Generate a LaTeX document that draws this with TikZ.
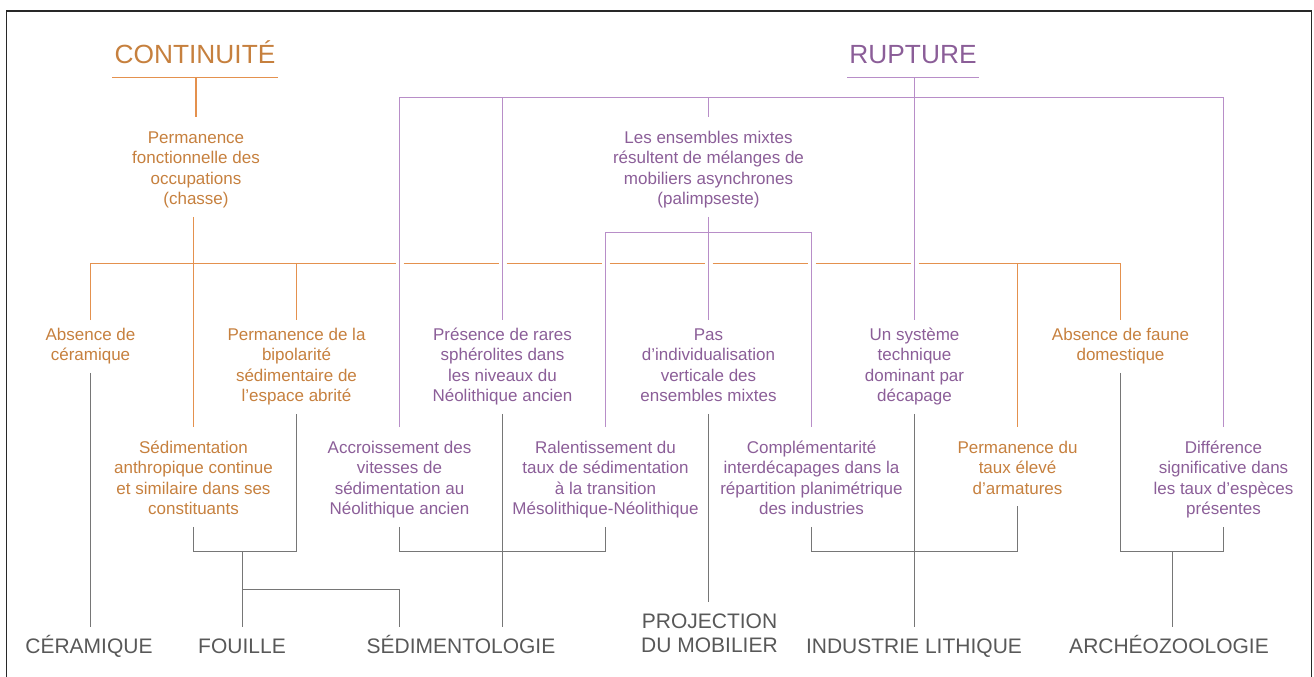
\documentclass[tikz,border=0pt]{standalone}
\usepackage{fontspec}
\setmainfont{Liberation Sans}
\usetikzlibrary{calc}
\definecolor{contText}{RGB}{198,128,62}
\definecolor{contLine}{RGB}{228,145,78}
\definecolor{rupText}{RGB}{139,94,152}
\definecolor{rupLine}{RGB}{184,142,200}
\definecolor{discText}{RGB}{88,88,88}
\definecolor{discLine}{RGB}{118,118,118}
\definecolor{frameCol}{RGB}{40,40,40}
\newcommand{\topgap}[1]{\rule{0pt}{#1}}
\newcommand{\botgap}{\rule[-5pt]{0pt}{5pt}}
\tikzset{
  idea/.style={anchor=north, align=center, inner xsep=0pt, inner ysep=7pt,
    font=\fontsize{17}{20.5}\selectfont},
  cont/.style={idea, text=contText},
  rup/.style={idea, text=rupText},
  heading/.style={anchor=base, inner xsep=2pt, inner ysep=13.7pt, text depth=0pt,
    font=\fontsize{26.3}{30}\selectfont},
  disc/.style={anchor=north, align=center, inner xsep=0pt, inner ysep=7pt, text=discText,
    font=\fontsize{21}{24.7}\selectfont},
  oline/.style={draw=contLine, line width=1.2pt},
  pline/.style={draw=rupLine, line width=1.2pt},
  gline/.style={draw=discLine, line width=1pt}
}
\begin{document}
\begin{tikzpicture}[x=1pt,y=-1pt]
  \useasboundingbox (0,0) rectangle (1314,677);
  %%%%% START %%%%%
  \def\xo{90.5}
  \def\cw{103}
  \def\rowA{117}
  \def\rowB{320}
  \def\rowC{427}
  \def\rowD{626.8}

  \coordinate (pb) at (0,97.3);
  \coordinate (mb) at (0,232.3);
  \coordinate (ob) at (0,263.3);
  \coordinate (gb) at (0,551);
  \coordinate (fb) at (0,589.3);

  \draw[frameCol, line width=1.8pt] (6.5,680) |- (1311.5,11) -- (1311.5,680);

  % titles
  \node[heading, text=contText] (contT) at (195,63.3) {CONTINUITÉ};
  \node[heading, text=rupText] (rupT) at (913,63.3) {RUPTURE};

  % first level
  \node[cont] (fonc) at (196,\rowA) {\topgap{19pt}Permanence\\fonctionnelle des\\occupations\\(chasse)\botgap};
  \node[rup] (ens) at ({\xo+6*\cw},\rowA) {\topgap{19pt}Les ensembles mixtes\\résultent de mélanges de\\mobiliers asynchrones\\(palimpseste)\botgap};

  % second level
  \node[cont] (ceram) at ({\xo},\rowB) {\topgap{13pt}Absence de\\céramique\botgap};
  \node[cont] (bipol) at ({\xo+2*\cw},\rowB) {\topgap{13pt}Permanence de la\\bipolarité\\sédimentaire de\\l’espace abrité\botgap};
  \node[rup] (sphero) at ({\xo+4*\cw},\rowB) {\topgap{13pt}Présence de rares\\sphérolites dans\\les niveaux du\\Néolithique ancien\botgap};
  \node[rup] (indiv) at ({\xo+6*\cw},\rowB) {\topgap{13pt}Pas\\d’individualisation\\verticale des\\ensembles mixtes\botgap};
  \node[rup] (systeme) at ({\xo+8*\cw},\rowB) {\topgap{13pt}Un système\\technique\\dominant par\\décapage\botgap};
  \node[cont] (faune) at ({\xo+10*\cw},\rowB) {\topgap{13pt}Absence de faune\\domestique\botgap};

  % third level
  \node[cont] (sedim) at ({\xo+\cw},\rowC) {\topgap{19pt}Sédimentation\\anthropique continue\\et similaire dans ses\\constituants\botgap};
  \node[rup] (accr) at ({\xo+3*\cw},\rowC) {\topgap{19pt}Accroissement des\\vitesses de\\sédimentation au\\Néolithique ancien\botgap};
  \node[rup] (ralent) at ({\xo+5*\cw},\rowC) {\topgap{19pt}Ralentissement du\\taux de sédimentation\\à la transition\\Mésolithique-Néolithique\botgap};
  \node[rup] (compl) at ({\xo+7*\cw},\rowC) {\topgap{19pt}Complémentarité\\interdécapages dans la\\répartition planimétrique\\des industries\botgap};
  \node[cont] (armat) at ({\xo+9*\cw},\rowC) {\topgap{19pt}Permanence du\\taux élevé\\d’armatures\botgap};
  \node[rup] (espec) at ({\xo+11*\cw},\rowC) {\topgap{19pt}Différence\\significative dans\\les taux d’espèces\\présentes\botgap};

  % disciplines
  \node[disc] (ceramD) at (89,\rowD) {\topgap{19.5pt}CÉRAMIQUE};
  \node[disc] (fouilleD) at (242,\rowD) {\topgap{19.5pt}FOUILLE};
  \node[disc] (sediD) at (461,\rowD) {\topgap{19.5pt}SÉDIMENTOLOGIE};
  \node[disc] (projD) at (709.5,601.5) {\topgap{19.5pt}PROJECTION\\DU MOBILIER};
  \node[disc] (indusD) at (914,\rowD) {\topgap{19.5pt}INDUSTRIE LITHIQUE};
  \node[disc] (archD) at (1169,\rowD) {\topgap{19.5pt}ARCHÉOZOOLOGIE};

  % continuite
  \draw[oline] (contT.south west) -- (contT.south east);
  \draw[oline] (contT.south -| fonc.north) -- (fonc.north);
  \draw[oline] (fonc.south -| sedim.north) -- (sedim.north);
  \draw[oline, shorten >=4pt] (ceram.north) -- (ceram.north |- ob) -- (accr.north |- ob);
  \foreach \p/\q in {accr/sphero,sphero/ralent,ralent/indiv,indiv/compl,compl/systeme}
    \draw[oline, shorten <=4pt, shorten >=4pt] (\p.north |- ob) -- (\q.north |- ob);
  \draw[oline, shorten <=4pt] (systeme.north |- ob) -- (faune.north |- ob) -- (faune.north);
  \draw[oline] (bipol.north |- ob) -- (bipol.north);
  \draw[oline] (armat.north |- ob) -- (armat.north);

  % rupture
  \draw[pline] (rupT.south west) -- (rupT.south east);
  \draw[pline] (rupT.south -| systeme.north) -- (systeme.north);
  \draw[pline] (accr.north) -- (accr.north |- pb) -- (espec.north |- pb) -- (espec.north);
  \draw[pline] (sphero.north |- pb) -- (sphero.north);
  \draw[pline] (ens.north |- pb) -- (ens.north);
  \draw[pline] (ralent.north) -- (ralent.north |- mb) -- (compl.north |- mb) -- (compl.north);
  \draw[pline] (ens.south) -- (indiv.north);

  % vers les disciplines
  \draw[gline] (ceram.south) -- (ceram.south |- ceramD.north);
  \draw[gline] (sedim.south) -- (sedim.south |- gb) -- (bipol.south |- gb) -- (bipol.south);
  \draw[gline] (fouilleD.north |- gb) -- (fouilleD.north);
  \draw[gline] (fouilleD.north |- fb) -| (accr.south |- sediD.north);
  \draw[gline] (accr.south) -- (accr.south |- gb) -- (ralent.south |- gb) -- (ralent.south);
  \draw[gline] (sphero.south) -- (sphero.south |- sediD.north);
  \draw[gline] (indiv.south) -- (indiv.south |- projD.north);
  \draw[gline] (compl.south) -- (compl.south |- gb) -- (armat.south |- gb) -- (armat.south);
  \draw[gline] (systeme.south) -- (systeme.south |- indusD.north);
  \draw[gline] (faune.south) -- (faune.south |- gb) -- (espec.south |- gb) -- (espec.south);
  \coordinate (archJ) at ($(faune.south |- gb)!.5!(espec.south |- gb)$);
  \draw[gline] (archJ) -- (archJ |- archD.north);
  %%%%% END %%%%%
\end{tikzpicture}
\end{document}
